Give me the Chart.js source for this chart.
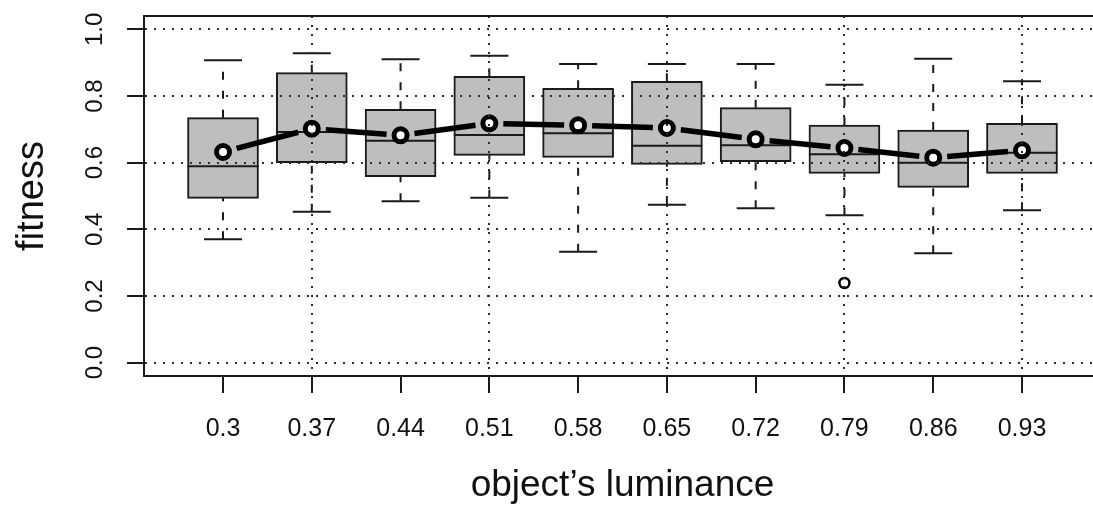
<!DOCTYPE html>
<html>
<head>
<meta charset="utf-8">
<script src="https://cdn.jsdelivr.net/npm/chart.js@4/dist/chart.umd.min.js"></script>
<style>
html, body { margin: 0; padding: 0; overflow: hidden; background: #fff; }
#c { display: block; }
</style>
</head>
<body>
<canvas id="c" width="1110" height="510" style="width:1110px;height:510px"></canvas>
<script>
// ---- data ----
const xValues = [0.3, 0.37, 0.44, 0.51, 0.58, 0.65, 0.72, 0.79, 0.86, 0.93];
const xLabels = ['0.3', '0.37', '0.44', '0.51', '0.58', '0.65', '0.72', '0.79', '0.86', '0.93'];
const whiskerLow  = [0.370, 0.453, 0.484, 0.495, 0.333, 0.474, 0.463, 0.442, 0.328, 0.457];
const quartile1   = [0.493, 0.600, 0.558, 0.622, 0.616, 0.595, 0.603, 0.568, 0.526, 0.568];
const medians     = [0.589, 0.692, 0.666, 0.683, 0.688, 0.651, 0.652, 0.625, 0.600, 0.630];
const quartile3   = [0.735, 0.870, 0.760, 0.859, 0.823, 0.844, 0.765, 0.713, 0.698, 0.718];
const whiskerHigh = [0.907, 0.928, 0.910, 0.921, 0.896, 0.896, 0.896, 0.834, 0.912, 0.844];
const means       = [0.632, 0.702, 0.682, 0.718, 0.712, 0.704, 0.670, 0.644, 0.615, 0.637];
const outlierX = [0.79];
const outlierY = [0.239];
const yTicks  = [0, 0.2, 0.4, 0.6, 0.8, 1.0];
const yLabels = ['0.0', '0.2', '0.4', '0.6', '0.8', '1.0'];
const xTitle = 'object’s luminance';
const yTitle = 'fitness';

// ---- derived datasets ----
const boxData = xValues.map((x, i) => ({ x: x, y: [quartile1[i], quartile3[i]] }));
const whiskerData = [];
xValues.forEach((x, i) => {
  whiskerData.push({ x: x, y: whiskerLow[i] }, { x: x, y: quartile1[i] }, { x: x, y: null });
  whiskerData.push({ x: x, y: quartile3[i] }, { x: x, y: whiskerHigh[i] }, { x: x, y: null });
});
const capData = [];
xValues.forEach((x, i) => { capData.push({ x: x, y: whiskerLow[i] }, { x: x, y: whiskerHigh[i] }); });
const medianData = xValues.map((x, i) => ({ x: x, y: medians[i] }));
const meanData = xValues.map((x, i) => ({ x: x, y: means[i] }));
const outlierData = outlierX.map((x, i) => ({ x: x, y: outlierY[i] }));

const INK = '#1a1a1a';
const FONT = 'Liberation Sans';
const GAP = 14;
const xMin = 0.2377, xMax = 0.9923;
const noPad = s => { s.paddingTop = 0; s.paddingBottom = 0; s.paddingLeft = 0; s.paddingRight = 0; };

new Chart(document.getElementById('c'), {
  type: 'bar',
  data: {
    datasets: [
      {
        type: 'bar', data: boxData, order: 5,
        backgroundColor: '#bebebe', borderColor: INK, borderWidth: 2,
        borderSkipped: false, barThickness: 71
      },
      {
        type: 'line', data: whiskerData, order: 4,
        borderColor: INK, borderWidth: 2, borderDash: [8, 11],
        pointRadius: 0, spanGaps: false, fill: false
      },
      {
        type: 'line', data: capData, order: 3, showLine: false,
        pointStyle: 'line', pointRadius: 19, pointBorderWidth: 2,
        pointBorderColor: INK, pointBackgroundColor: INK
      },
      {
        type: 'line', data: medianData, order: 3, showLine: false,
        pointStyle: 'line', pointRadius: 35.5, pointBorderWidth: 2,
        pointBorderColor: INK, pointBackgroundColor: INK
      },
      {
        type: 'line', data: meanData, order: 2,
        borderColor: '#000', borderWidth: 5.5, fill: false,
        pointRadius: 6.5, pointBorderWidth: 5,
        pointBorderColor: '#000', pointBackgroundColor: '#fff',
        segment: {
          borderDash: ctx => {
            const L = Math.hypot(ctx.p1.x - ctx.p0.x, ctx.p1.y - ctx.p0.y);
            return [Math.max(L - 2 * GAP, 0), 2 * GAP];
          },
          borderDashOffset: () => -GAP
        }
      },
      {
        type: 'line', data: outlierData, order: 1, showLine: false,
        pointRadius: 5, pointBorderWidth: 2.5,
        pointBorderColor: '#000', pointBackgroundColor: '#fff'
      }
    ]
  },
  options: {
    responsive: false,
    maintainAspectRatio: false,
    animation: false,
    events: [],
    layout: { autoPadding: false, padding: { top: 16, right: 9, left: 0, bottom: 0 } },
    plugins: { legend: { display: false }, tooltip: { enabled: false } },
    scales: {
      x: {
        type: 'linear', position: 'bottom', min: xMin, max: xMax, offset: false,
        afterBuildTicks: s => { s.ticks = xValues.map(v => ({ value: v })); },
        afterFit: s => { s.height = 134; noPad(s); },
        ticks: {
          autoSkip: false, maxRotation: 0, minRotation: 0, padding: 21,
          color: '#111', font: { family: FONT, size: 25 },
          callback: (v, i) => xLabels[i]
        },
        grid: {
          z: 1, lineWidth: 2, offset: false,
          color: ctx => (ctx.index % 2 === 1 ? '#2a2a2a' : 'rgba(0,0,0,0)'),
          tickColor: INK, tickWidth: 2, tickLength: 17
        },
        border: { display: true, color: INK, width: 2, dash: [2, 7], z: 1 },
        title: {
          display: true, text: xTitle, color: '#111',
          font: { family: FONT, size: 37 }, padding: { top: 0, bottom: 2 }
        }
      },
      xTop: {
        type: 'linear', position: 'top', min: xMin, max: xMax, offset: false,
        afterFit: s => { s.height = 0; noPad(s); },
        ticks: { display: false },
        grid: { display: false, drawTicks: false },
        border: { display: true, color: INK, width: 2, z: 1 }
      },
      y: {
        type: 'linear', position: 'left', min: -0.04, max: 1.04,
        afterBuildTicks: s => { s.ticks = yTicks.map(v => ({ value: v })); },
        afterFit: s => { s.width = 144; noPad(s); },
        ticks: {
          autoSkip: false, minRotation: 90, maxRotation: 90, crossAlign: 'center',
          padding: 15, color: '#111', font: { family: FONT, size: 24 },
          callback: (v, i) => yLabels[i]
        },
        grid: {
          z: 1, lineWidth: 2, color: '#2a2a2a',
          tickColor: INK, tickWidth: 2, tickLength: 17
        },
        border: { display: true, color: INK, width: 2, dash: [2, 7], z: 1 },
        title: {
          display: true, text: yTitle, color: '#111',
          font: { family: FONT, size: 38 }, padding: { top: 10, bottom: 0 }
        }
      }
    }
  }
});
</script>
</body>
</html>
